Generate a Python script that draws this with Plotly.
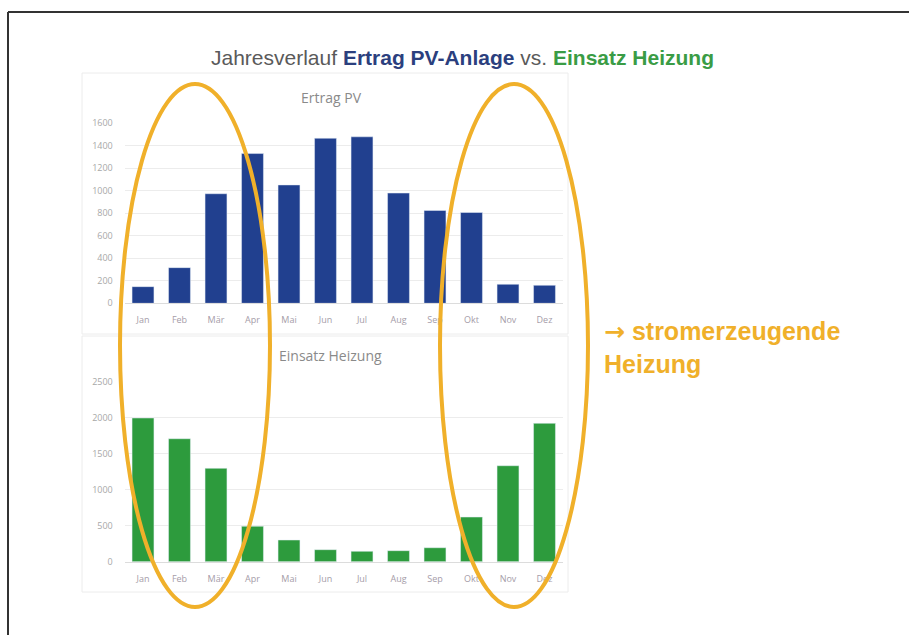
import plotly.graph_objects as go

W, H = 909, 635

months = ["Jan", "Feb", "Mär", "Apr", "Mai", "Jun", "Jul", "Aug", "Sep", "Okt", "Nov", "Dez"]
ertrag_pv = [148, 317, 974, 1331, 1052, 1467, 1480, 980, 825, 807, 169, 160]
einsatz_heizung = [1996, 1708, 1297, 492, 301, 167, 144, 153, 194, 620, 1333, 1922]
pv_ticks = [0, 200, 400, 600, 800, 1000, 1200, 1400, 1600]
heiz_ticks = [0, 500, 1000, 1500, 2000, 2500]

BLUE = "#21408f"
GREEN = "#2d9b3d"
ORANGE = "#f0b02a"
GRID = "#ececec"
TICK = "#a59ca8"


def px(x):
    return x / W


def py(y):
    return (H - y) / H


fig = go.Figure()
fig.add_trace(go.Bar(x=months, y=ertrag_pv, marker_color=BLUE, xaxis="x", yaxis="y",
                     showlegend=False, hoverinfo="x+y"))
fig.add_trace(go.Bar(x=months, y=einsatz_heizung, marker_color=GREEN, xaxis="x2", yaxis="y2",
                     showlegend=False, hoverinfo="x+y"))

xdom = [px(124.75), px(562.75)]
axis_x = dict(domain=xdom, range=[-0.5, 11.5], type="category", showgrid=False,
              showline=True, linecolor="#dcdcdc", linewidth=1, ticks="",
              ticklabelstandoff=8, automargin=False,
              tickfont=dict(family="Open Sans", size=9, color=TICK), fixedrange=True)
axis_y = dict(showgrid=True, gridcolor=GRID, gridwidth=1, zeroline=False, showline=False,
              ticks="", ticklabelstandoff=11, automargin=False,
              tickfont=dict(family="Open Sans", size=9, color="#a8a8a8"),
              fixedrange=True)

fig.update_layout(
    width=W, height=H, margin=dict(l=0, r=0, t=0, b=0, pad=0, autoexpand=False),
    paper_bgcolor="white", plot_bgcolor="rgba(0,0,0,0)",
    bargap=0.4,
    xaxis=dict(axis_x, anchor="y"),
    yaxis=dict(axis_y, domain=[py(303.3), py(123.3)], range=[0, 1600],
               tickvals=pv_ticks, anchor="x"),
    xaxis2=dict(axis_x, anchor="y2"),
    yaxis2=dict(axis_y, domain=[py(561.7), py(381.7)], range=[0, 2500],
                tickvals=heiz_ticks, anchor="x2"),
)

shapes = [
    # chart panels
    dict(type="rect", xref="paper", yref="paper", x0=px(82), x1=px(568), y0=py(334), y1=py(73),
         line=dict(color="#ececec", width=1), fillcolor="rgba(0,0,0,0)", layer="below"),
    dict(type="rect", xref="paper", yref="paper", x0=px(82), x1=px(568), y0=py(592), y1=py(336),
         line=dict(color="#ececec", width=1), fillcolor="rgba(0,0,0,0)", layer="below"),
    # frame (top and left)
    dict(type="line", xref="paper", yref="paper", x0=px(8), x1=1, y0=py(12), y1=py(12),
         line=dict(color="#333333", width=2)),
    dict(type="line", xref="paper", yref="paper", x0=px(8), x1=px(8), y0=0, y1=py(12),
         line=dict(color="#333333", width=2)),
    # highlight ellipses around the winter months
    dict(type="circle", xref="paper", yref="paper", x0=px(120), x1=px(270), y0=py(607), y1=py(84),
         line=dict(color=ORANGE, width=4)),
    dict(type="circle", xref="paper", yref="paper", x0=px(440), x1=px(588), y0=py(607), y1=py(84),
         line=dict(color=ORANGE, width=4)),
]
fig.update_layout(shapes=shapes)

annotations = [
    dict(x=px(462), y=py(58), xref="paper", yref="paper", showarrow=False,
         xanchor="center", yanchor="middle",
         text=("Jahresverlauf <b><span style='color:#2b3f7e'>Ertrag PV-Anlage</span></b> vs. "
               "<b><span style='color:#3a9c45'>Einsatz Heizung</span></b>"),
         font=dict(family="Liberation Sans", size=21, color="#5a5a5a")),
    dict(x=px(331), y=py(98), xref="paper", yref="paper", showarrow=False,
         xanchor="center", yanchor="middle", text="Ertrag PV",
         font=dict(family="Open Sans", size=14, color="#8a8a8a")),
    dict(x=px(330), y=py(355), xref="paper", yref="paper", showarrow=False,
         xanchor="center", yanchor="middle", text="Einsatz Heizung",
         font=dict(family="Open Sans", size=14, color="#8a8a8a")),
    dict(x=px(602), y=py(331), xref="paper", yref="paper", showarrow=False,
         xanchor="left", yanchor="middle",
         text="<b><span style='font-family:DejaVu Sans'>→</span> stromerzeugende</b>",
         font=dict(family="Liberation Sans", size=25, color=ORANGE)),
    dict(x=px(602), y=py(364), xref="paper", yref="paper", showarrow=False,
         xanchor="left", yanchor="middle", text="<b>Heizung</b>",
         font=dict(family="Liberation Sans", size=25, color=ORANGE)),
]
fig.update_layout(annotations=annotations)

fig.write_html("out.html")
